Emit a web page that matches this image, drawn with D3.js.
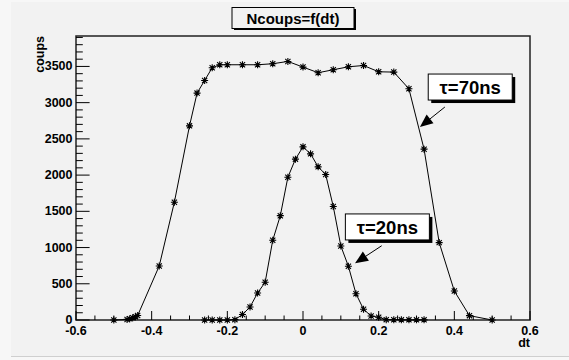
<!DOCTYPE html>
<html>
<head>
<meta charset="utf-8">
<script src="https://cdn.jsdelivr.net/npm/d3@7"></script>
<style>
  body { margin: 0; background: #f7f7f7; }
  text { font-family: "Liberation Sans", Arial, sans-serif; font-weight: bold; }
</style>
</head>
<body>
<div id="chart"></div>
<script>
// data
const dt70 = [-0.50, -0.465, -0.458, -0.45, -0.443, -0.437, -0.38, -0.34, -0.30, -0.28, -0.26, -0.24, -0.22, -0.20,
    -0.16, -0.12, -0.08, -0.04, 0.00, 0.04, 0.08, 0.12, 0.16, 0.20, 0.24, 0.28, 0.32, 0.36, 0.40, 0.44, 0.50];
const coups70 = [0, 8, 18, 30, 45, 62, 746, 1626, 2680, 3132, 3306, 3482, 3523, 3523,
    3523, 3523, 3537, 3569, 3491, 3413, 3454, 3495, 3513, 3426, 3422, 3191, 2358, 1068, 400, 60, 0];

const dt20 = [-0.26, -0.24, -0.22, -0.20, -0.18, -0.16, -0.14, -0.12, -0.10, -0.08, -0.06, -0.04, -0.02, 0.00,
    0.02, 0.04, 0.06, 0.08, 0.10, 0.12, 0.14, 0.16, 0.18, 0.20, 0.22, 0.24, 0.26, 0.28, 0.30, 0.32];
const coups20 = [0, 0, 0, 0, 5, 75, 180, 373, 521, 1100, 1440, 1970, 2220, 2390,
    2293, 2114, 2008, 1566, 1022, 742, 363, 148, 55, 37, 5, 3, 2, 2, 2, 2];

const xTicks = [-0.6, -0.4, -0.2, 0, 0.2, 0.4, 0.6];
const yTicks = [0, 500, 1000, 1500, 2000, 2500, 3000, 3500];

const TITLE = "Ncoups=f(dt)";
const X_TITLE = "dt";
const Y_TITLE = "coups";

// labels: text, box anchor (data coords), arrow tail and tip (data coords)
const labels = [
    { text: "\u03c4=70ns", x: 0.331, y: 3395, tail: [0.375, 2940], tip: [0.309, 2664] },
    { text: "\u03c4=20ns", x: 0.112, y: 1464, tail: [0.208, 1025], tip: [0.1375, 783] }
];

const W = 569, H = 360;
const BG = "#f2f2f2";

const svg = d3.select("#chart").append("svg")
    .attr("width", W)
    .attr("height", H);

// canvas
svg.append("rect")
    .attr("x", 11).attr("y", 2)
    .attr("width", W - 11).attr("height", 354)
    .attr("fill", BG);
svg.append("line")
    .attr("x1", 11).attr("x2", W)
    .attr("y1", 356.5).attr("y2", 356.5)
    .attr("stroke", "#cfcfcf");

const xScale = d3.scaleLinear().domain([-0.6, 0.6]).range([76, 530]);
const yScale = d3.scaleLinear().domain([0, 3920]).range([320, 36]);

const x0 = xScale.range()[0], x1 = xScale.range()[1];
const yb = yScale.range()[0], yt = yScale.range()[1];

// frame
svg.append("rect")
    .attr("x", x0).attr("y", yt)
    .attr("width", x1 - x0).attr("height", yb - yt)
    .attr("fill", "none")
    .attr("stroke", "#222")
    .attr("stroke-width", 1.5);

// x axis ticks (inward)
const xMinor = d3.range(-0.6, 0.6001, 0.05);
svg.append("g").selectAll("line")
    .data(xMinor)
    .enter().append("line")
    .attr("x1", d => xScale(d)).attr("x2", d => xScale(d))
    .attr("y1", yb)
    .attr("y2", d => Math.abs(Math.round(d * 100) % 20) === 0 ? yb - 9 : yb - 4.5)
    .attr("stroke", "black");

svg.append("g").selectAll("text")
    .data(xTicks)
    .enter().append("text")
    .attr("x", d => xScale(d))
    .attr("y", 334.5)
    .attr("text-anchor", "middle")
    .attr("font-size", 12.5)
    .text(d => String(+d.toFixed(1)));

// y axis ticks (inward)
const yMinor = d3.range(0, 3901, 100);
svg.append("g").selectAll("line")
    .data(yMinor)
    .enter().append("line")
    .attr("x1", x0)
    .attr("x2", d => d % 500 === 0 ? x0 + 13.6 : x0 + 6.8)
    .attr("y1", d => yScale(d)).attr("y2", d => yScale(d))
    .attr("stroke", "black");

svg.append("g").selectAll("text")
    .data(yTicks)
    .enter().append("text")
    .attr("x", 72.5)
    .attr("y", d => yScale(d))
    .attr("dy", "0.32em")
    .attr("text-anchor", "end")
    .attr("font-size", 12.5)
    .text(d => d);

// axis titles
svg.append("text")
    .attr("x", x1)
    .attr("y", 347)
    .attr("text-anchor", "end")
    .attr("font-size", 12.5)
    .text(X_TITLE);

svg.append("text")
    .attr("transform", `translate(44, ${yt}) rotate(-90)`)
    .attr("text-anchor", "end")
    .attr("font-size", 12.5)
    .text(Y_TITLE);

// series
const line = d3.line()
    .x(d => xScale(d[0]))
    .y(d => yScale(d[1]));

const star = "M-3.5,0H3.5M0,-3.5V3.5M-2.6,-2.6L2.6,2.6M-2.6,2.6L2.6,-2.6";

function drawSeries(xs, ys) {
    const pts = xs.map((x, i) => [x, ys[i]]);
    svg.append("path")
        .datum(pts)
        .attr("d", line)
        .attr("fill", "none")
        .attr("stroke", "black")
        .attr("stroke-width", 1);
    svg.append("g").selectAll("path")
        .data(pts)
        .enter().append("path")
        .attr("transform", d => `translate(${xScale(d[0])},${yScale(d[1])})`)
        .attr("d", star)
        .attr("stroke", "black")
        .attr("stroke-width", 1.1);
}

drawSeries(dt70, coups70);
drawSeries(dt20, coups20);

// title box
const titleBox = svg.append("g");
titleBox.append("rect")
    .attr("x", 234).attr("y", 9)
    .attr("width", 122).attr("height", 21)
    .attr("fill", "black");
titleBox.append("rect")
    .attr("x", 232).attr("y", 7.5)
    .attr("width", 122).attr("height", 21)
    .attr("fill", BG)
    .attr("stroke", "black");
titleBox.append("text")
    .attr("x", 293)
    .attr("y", 23.5)
    .attr("text-anchor", "middle")
    .attr("font-size", 15)
    .text(TITLE);

// annotation labels with arrows
labels.forEach(l => {
    const bx = xScale(l.x), by = yScale(l.y);
    const g = svg.append("g");
    const txt = g.append("text")
        .attr("font-size", 18.5)
        .attr("text-anchor", "middle")
        .text(l.text);
    const bw = 84, bh = 26;
    g.append("rect")
        .attr("x", bx + 3).attr("y", by + 3)
        .attr("width", bw).attr("height", bh)
        .attr("fill", "black");
    g.append("rect")
        .attr("x", bx).attr("y", by)
        .attr("width", bw).attr("height", bh)
        .attr("fill", "white")
        .attr("stroke", "black");
    txt.raise()
        .attr("x", bx + bw / 2)
        .attr("y", by + 20);

    const tx = xScale(l.tail[0]), ty = yScale(l.tail[1]);
    const px = xScale(l.tip[0]), py = yScale(l.tip[1]);
    const ang = Math.atan2(py - ty, px - tx);
    const len = 13, half = 5.5;
    const bxp = px - len * Math.cos(ang), byp = py - len * Math.sin(ang);
    svg.append("line")
        .attr("x1", tx).attr("y1", ty)
        .attr("x2", bxp).attr("y2", byp)
        .attr("stroke", "black");
    svg.append("path")
        .attr("d", `M${px},${py}L${bxp - half * Math.sin(ang)},${byp + half * Math.cos(ang)}L${bxp + half * Math.sin(ang)},${byp - half * Math.cos(ang)}Z`)
        .attr("fill", "black");
});
</script>
</body>
</html>
